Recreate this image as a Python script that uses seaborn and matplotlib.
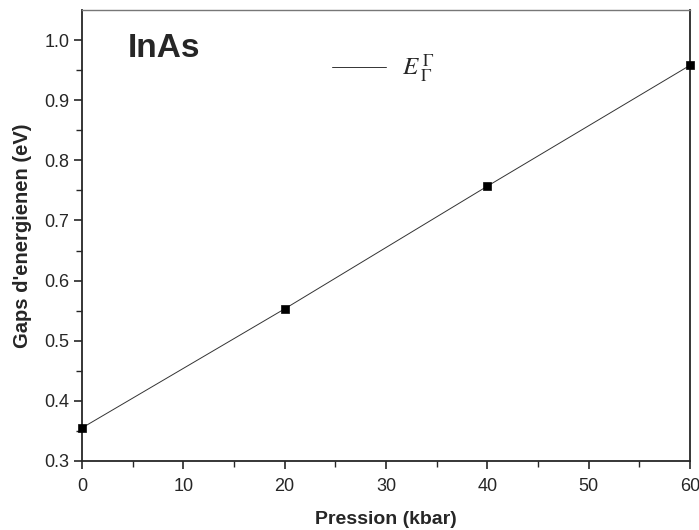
import numpy as np
import matplotlib
matplotlib.use("Agg")
import matplotlib.pyplot as plt
import pandas as pd
import seaborn as sns

sns.set_style("ticks")
plt.rcParams['font.family'] = ['Liberation Sans', 'DejaVu Sans']
plt.rcParams['mathtext.fontset'] = 'stix'

# data
pression = [0, 20, 40, 60]
gap = [0.355, 0.553, 0.757, 0.958]
label = r'$E\,_{\Gamma}^{\,\Gamma}$'

df = pd.DataFrame({'Pression': pression, 'Gap': gap})

fig = plt.figure(figsize=(6.99, 5.30), dpi=100)
ax = fig.add_axes([0.1173, 0.1302, 0.8698, 0.8509])

sns.lineplot(data=df, x='Pression', y='Gap', color='#333333', linewidth=0.7,
             label=label, ax=ax)
sns.scatterplot(data=df, x='Pression', y='Gap', marker='s', s=36, color='black',
                edgecolor='black', legend=False, ax=ax, zorder=3, clip_on=False)

ax.set_xlim(0, 60)
ax.set_ylim(0.3, 1.05)
ax.set_xticks(np.arange(0, 61, 10))
ax.set_xticks(np.arange(5, 60, 10), minor=True)
ax.set_yticks(np.arange(0.3, 1.01, 0.1))
ax.set_yticks(np.arange(0.35, 1.01, 0.1), minor=True)
ax.yaxis.set_major_formatter(matplotlib.ticker.FormatStrFormatter('%.1f'))
ax.tick_params(which='major', length=6, width=1.2, labelsize=13)
ax.tick_params(axis='y', which='major', pad=3)
ax.tick_params(axis='x', which='major', pad=6)
ax.tick_params(which='minor', length=4, width=1.0)

for s in ax.spines.values():
    s.set_linewidth(1.3)
ax.spines['top'].set_color('#777777')
ax.spines['top'].set_linewidth(1.0)

ax.set_xlabel('Pression (kbar)', fontsize=14, fontweight='bold', labelpad=12)
ax.set_ylabel("Gaps d'energienen (eV)", fontsize=14.5, fontweight='bold', labelpad=9)

ax.text(0.076, 0.915, 'InAs', transform=ax.transAxes, fontsize=24,
        fontweight='bold', va='center', ha='left')

ax.legend(loc='upper left', bbox_to_anchor=(0.375, 0.955), frameon=False,
          fontsize=18, handlelength=2.15, handletextpad=0.65)

fig.savefig('out.png', dpi=100)
